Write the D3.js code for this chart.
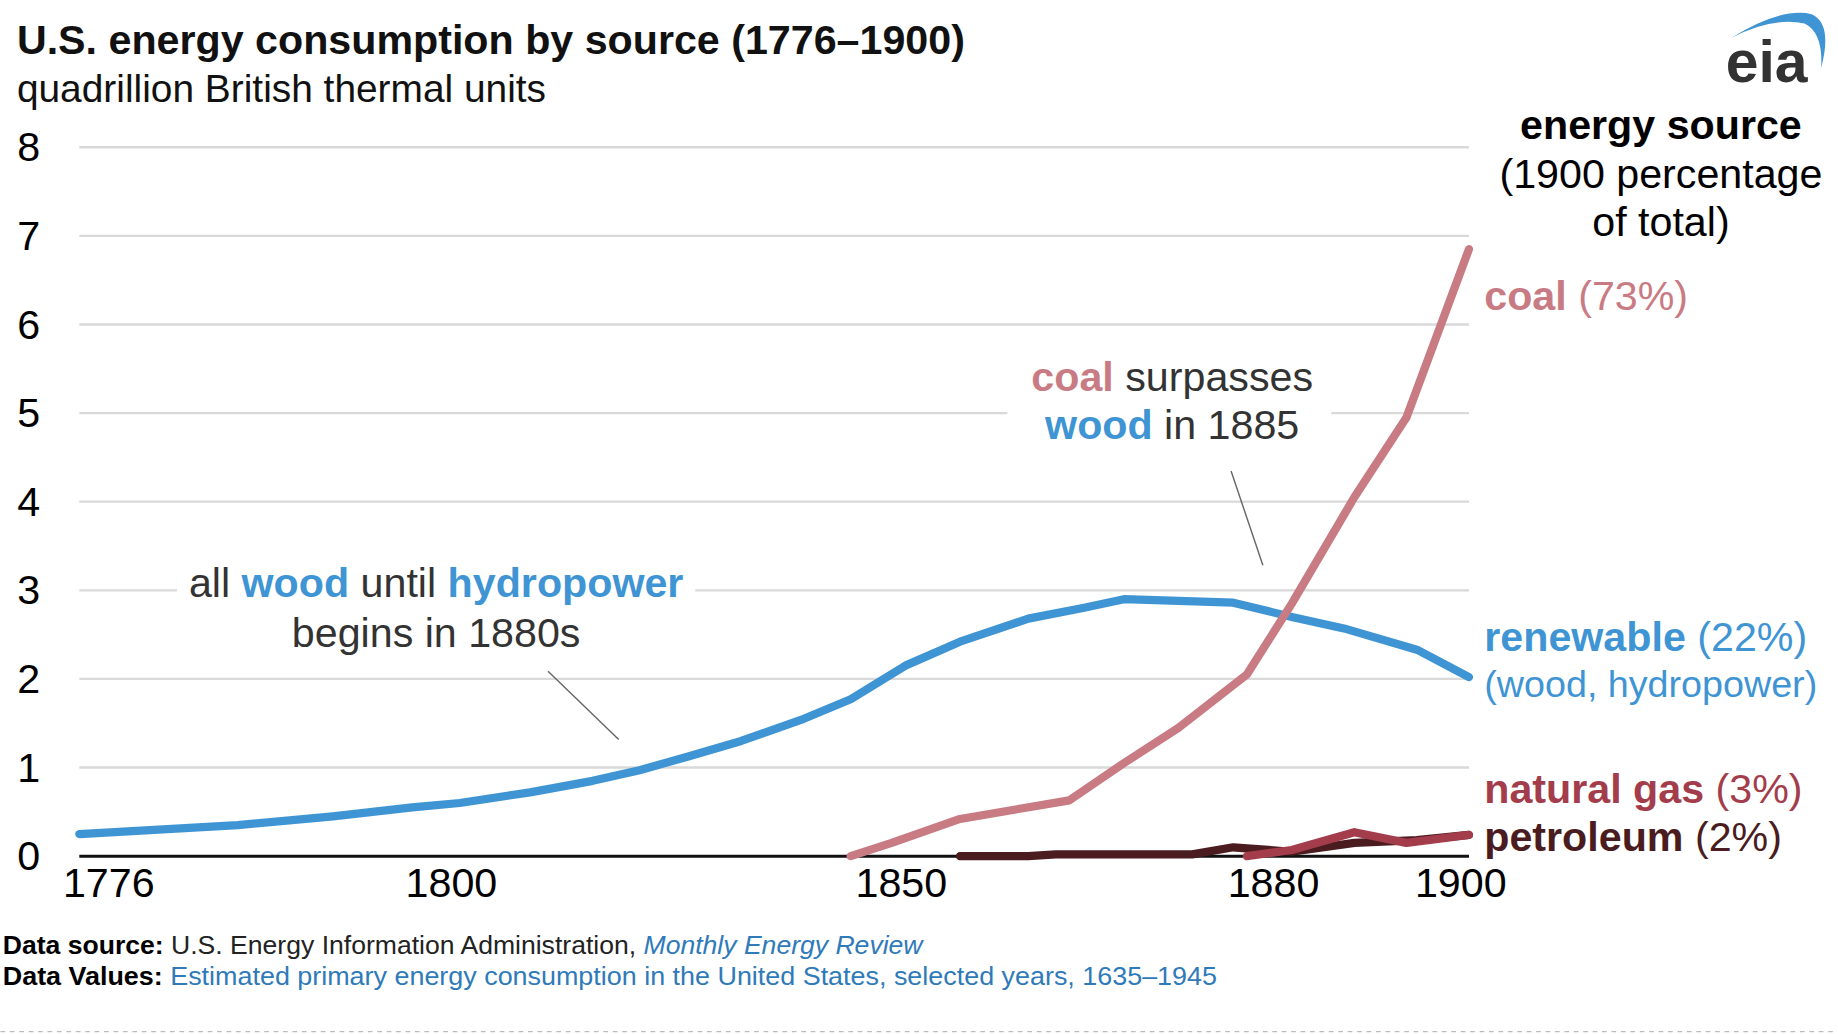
<!doctype html>
<html>
<head>
<style>
  body { margin: 0; background: #fff; }
  text { font-family: "Liberation Sans", Arial, sans-serif; }
</style>
<script src="https://d3js.org/d3.v7.min.js"></script>
</head>
<body>
<svg width="1838" height="1034" viewBox="0 0 1560 878"></svg>
<script>
// data (years, quadrillion Btu)
var woodYears = [1776,1781,1786,1792,1797,1800,1809,1817,1823,1829,1836,1844,1850,1854,1858,1863,1867,1870,1874,1878,1883,1888,1895,1900];
var woodVals  = [0.25,0.3,0.35,0.45,0.55,0.6,0.72,0.85,0.97,1.12,1.3,1.55,1.77,2.15,2.42,2.68,2.8,2.9,2.88,2.86,2.7,2.57,2.33,2.02];
var coalYears = [1850,1853,1858,1866,1870,1874,1879,1883,1889,1894,1900];
var coalVals  = [0,0.15,0.42,0.63,1.05,1.45,2.05,2.85,4.05,4.95,6.85];
var petroYears = [1858,1863,1865,1875,1878,1883,1889,1895,1900];
var petroVals  = [0,0,0.02,0.02,0.1,0.05,0.15,0.18,0.24];
var gasYears = [1879,1883,1889,1894,1900];
var gasVals  = [0,0.07,0.27,0.15,0.24];
var xTicks = [1776,1800,1850,1880,1900];
var yTicks = [0,1,2,3,4,5,6,7,8];

var svg = d3.select("svg");
var blue = "#3f95d4", coalC = "#c97b84", gasC = "#a33d4b", petroC = "#4a1c20";
var fs = 35;

var x = d3.scaleLinear().domain([1776,1800,1850,1880,1900]).range([67,390,722,1070,1247]);
var y = d3.scaleLinear().domain([0,8]).range([727,125]);

// gridlines
svg.append("g").selectAll("line").data(yTicks.slice(1)).enter().append("line")
  .attr("x1",67).attr("x2",1247).attr("y1",d=>y(d)).attr("y2",d=>y(d))
  .attr("stroke","#d9d9d9").attr("stroke-width",2);
svg.append("g").selectAll("text").data(yTicks).enter().append("text")
  .attr("x",24).attr("y",d=>y(d)+12).attr("text-anchor","middle")
  .attr("font-size",fs).text(d=>d);

// annotation masks
svg.append("rect").attr("x",855).attr("y",300).attr("width",275).attr("height",85).attr("fill","#fff");
svg.append("rect").attr("x",150).attr("y",470).attr("width",440).attr("height",90).attr("fill","#fff");

// baseline
svg.append("line").attr("x1",67).attr("x2",1247).attr("y1",y(0)).attr("y2",y(0))
  .attr("stroke","#111").attr("stroke-width",2.5);

svg.append("g").selectAll("text").data(xTicks).enter().append("text")
  .attr("x",(d,i)=> i==0 ? x(d)+25 : (i==2 ? x(d)+43 : (i==3 ? x(d)+11 : x(d)-7)))
  .attr("y",762).attr("text-anchor","middle").attr("font-size",fs).text(d=>d);

var line = d3.line().x(d=>x(d[0])).y(d=>y(d[1]));
function series(years, vals, color) {
  svg.append("path").datum(d3.zip(years, vals)).attr("d", line)
    .attr("fill","none").attr("stroke",color).attr("stroke-width",7)
    .attr("stroke-linejoin","round").attr("stroke-linecap","round");
}
series(woodYears, woodVals, blue);
series(coalYears, coalVals, coalC);
series(petroYears, petroVals, petroC);
series(gasYears, gasVals, gasC);

// leader lines
svg.append("line").attr("x1",1045).attr("y1",400).attr("x2",1072).attr("y2",480).attr("stroke","#666").attr("stroke-width",1.2);
svg.append("line").attr("x1",465).attr("y1",570).attr("x2",525).attr("y2",628).attr("stroke","#666").attr("stroke-width",1.2);

function rich(xp, yp, parts, size, anchor) {
  var t = svg.append("text").attr("x",xp).attr("y",yp).attr("font-size",size).attr("text-anchor",anchor||"start");
  parts.forEach(p => t.append("tspan").attr("fill",p[1]).attr("font-weight",p[2]?"bold":"normal")
    .attr("font-style",p[3]?"italic":"normal").text(p[0]));
  return t;
}
var dk = "#333";
rich(995,332,[["coal",coalC,1],[" surpasses",dk]],fs,"middle");
rich(995,373,[["wood",blue,1],[" in 1885",dk]],fs,"middle");
rich(370,507,[["all ",dk],["wood",blue,1],[" until ",dk],["hydropower",blue,1]],fs,"middle");
rich(370,549,[["begins in 1880s",dk]],fs,"middle");

// right legend
rich(1410,118,[["energy source","#000",1]],fs,"middle");
rich(1410,160,[["(1900 percentage","#000"]],fs,"middle");
rich(1410,200,[["of total)","#000"]],fs,"middle");
rich(1260,263,[["coal",coalC,1],[" (73%)",coalC]],fs);
rich(1260,553,[["renewable",blue,1],[" (22%)",blue]],fs);
rich(1260,592,[["(wood, hydropower)",blue]],32);
rich(1260,682,[["natural gas",gasC,1],[" (3%)",gasC]],fs);
rich(1260,723,[["petroleum",petroC,1],[" (2%)",petroC]],fs);

// title
rich(14,46,[["U.S. energy consumption by source (1776\u20131900)","#111",1]],35);
rich(14,87,[["quadrillion British thermal units","#111"]],33);

// logo
svg.append("path").attr("d","M1470,32 Q1512,6 1538,12 Q1556,20 1546,58 Q1548,28 1532,20 Q1505,14 1470,32 Z").attr("fill",blue);
svg.append("text").attr("x",1465).attr("y",70).attr("font-size",50).attr("font-weight","bold").attr("fill","#333").text("eia");

// footer
rich(2,810,[["Data source:","#000",1],[" U.S. Energy Information Administration, ","#222"],["Monthly Energy Review","#2f7ab9",0,1]],22)
  .attr("textLength",781).attr("lengthAdjust","spacingAndGlyphs");
rich(2,836,[["Data Values:","#000",1],[" Estimated primary energy consumption in the United States, selected years, 1635\u20131945","#2f7ab9"]],22)
  .attr("textLength",1031).attr("lengthAdjust","spacingAndGlyphs");
svg.append("line").attr("x1",0).attr("x2",1560).attr("y1",876).attr("y2",876).attr("stroke","#bbb").attr("stroke-dasharray","4,4");
</script>
</body>
</html>
